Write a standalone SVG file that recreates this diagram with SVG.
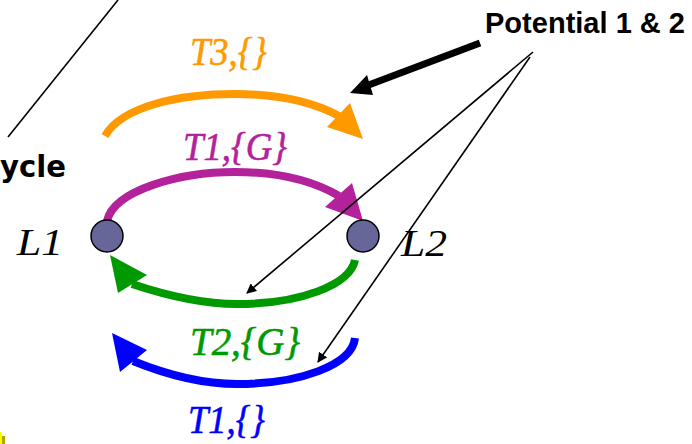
<svg xmlns="http://www.w3.org/2000/svg" width="692" height="444" viewBox="0 0 692 444">
<defs>
<style>
.arc{fill:none;stroke-width:8;stroke-linecap:butt}
.lbl{font-family:"Liberation Serif","DejaVu Serif",serif;font-style:italic;font-size:40px;stroke-width:0.6}
.loc{font-family:"Liberation Serif","DejaVu Serif",serif;font-style:italic;font-size:38px;fill:#000}
.node{fill:#666699;stroke:#000;stroke-width:1.5}
.thin{stroke:#000;stroke-width:1.6;fill:none}
</style>
<marker id="ah" viewBox="0 0 10 10" refX="9" refY="5" markerWidth="10" markerHeight="10" markerUnits="userSpaceOnUse" orient="auto">
<path d="M0,0 L10,5 L0,10 Z" fill="#000"/>
</marker>
</defs>
<rect width="692" height="444" fill="#fff"/>
<line x1="8" y1="137" x2="118" y2="0" stroke="#000" stroke-width="1.6"/>
<text x="0" y="177" font-family="'DejaVu Sans',sans-serif" font-weight="bold" font-size="30" textLength="66" lengthAdjust="spacingAndGlyphs">ycle</text>
<g id="connectors">
<path class="arc" stroke="#FF9900" d="M105,136 C122,106 180,94 235,94 C280,94 315,103 339,116"/>
<polygon fill="#FF9900" points="327,127 350,103 363,139"/>
<path class="arc" stroke="#B3229A" d="M107,221 C114,190 180,172 235,172 C280,172 315,182 339,196"/>
<polygon fill="#B3229A" points="325,207 352,183 363,221"/>
<path class="arc" stroke="#009900" d="M355,260 C350,285 300,304 237,304 C200,304 165,295 132,284"/>
<polygon fill="#009900" points="110,255 118,293 147,275"/>
<path class="arc" stroke="#0000FF" d="M355,338 C352,365 300,384 237,384 C200,384 165,374 133,361"/>
<polygon fill="#0000FF" points="112,333 120,372 147,350"/>
<line x1="480" y1="43" x2="366" y2="86" stroke="#000" stroke-width="7"/>
<polygon fill="#000" points="350,93 367,75 373,95"/>
<line class="thin" x1="533" y1="52" x2="247" y2="293" marker-end="url(#ah)"/>
<line class="thin" x1="530" y1="57" x2="318" y2="362" marker-end="url(#ah)"/>
</g>
<g id="L1"><circle class="node" cx="107" cy="236" r="16"/><text class="loc" x="17" y="255" textLength="46" lengthAdjust="spacingAndGlyphs">L1</text></g>
<g id="L2"><circle class="node" cx="363" cy="236" r="16"/><text class="loc" x="401" y="256" textLength="46" lengthAdjust="spacingAndGlyphs">L2</text></g>
<g id="labels">
<text class="lbl" fill="#FF9900" stroke="#FF9900" x="190" y="65" textLength="77" lengthAdjust="spacingAndGlyphs">T3,{}</text>
<text class="lbl" fill="#B3229A" stroke="#B3229A" x="183" y="160" textLength="104" lengthAdjust="spacingAndGlyphs">T1,{G}</text>
<text class="lbl" fill="#009900" stroke="#009900" x="190" y="355" textLength="110" lengthAdjust="spacingAndGlyphs">T2,{G}</text>
<text class="lbl" fill="#0000FF" stroke="#0000FF" x="188" y="433" textLength="77" lengthAdjust="spacingAndGlyphs">T1,{}</text>
</g>
<g id="potential"><text x="485" y="33" font-family="'Liberation Sans',Arial,sans-serif" font-weight="bold" font-size="29" textLength="200" lengthAdjust="spacingAndGlyphs">Potential 1 &amp; 2</text></g>
<rect x="0" y="432" width="2" height="12" fill="#FFFF00"/>
<rect x="2" y="436" width="3" height="8" fill="#B0A800"/>
</svg>
